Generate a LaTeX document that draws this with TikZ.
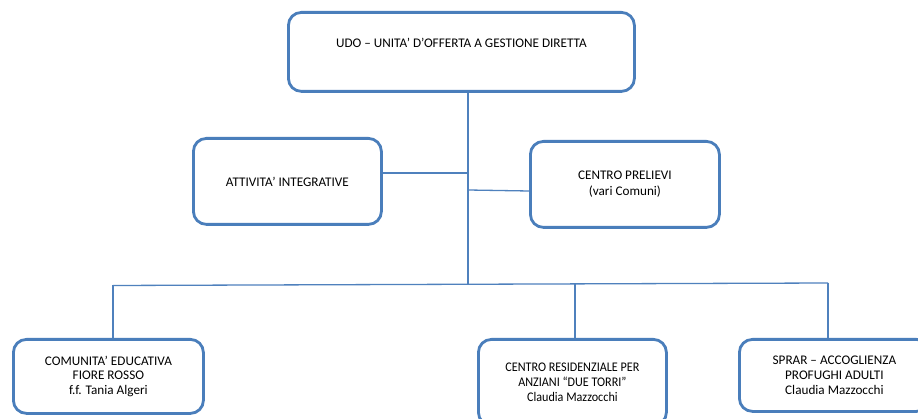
\documentclass[tikz,border=0pt]{standalone}
\usepackage{fontspec}
\setmainfont{Carlito}
\newfontfamily\narrowfont[FakeStretch=0.92,Ligatures=TeX]{Carlito}
\definecolor{boxline}{HTML}{4A7EBB}
\definecolor{wire}{HTML}{4F81BD}
\begin{document}
\begin{tikzpicture}[x=1pt,y=-1pt,
  unit/.style={draw=boxline, line width=2.8pt, rounded corners=13pt, fill=white,
    inner sep=0pt, align=center, anchor=north west, font=\fontsize{13.2}{16}\selectfont},
  subunit/.style={unit, font=\fontsize{13.2}{14.8}\selectfont},
  narrowunit/.style={unit, font=\narrowfont\fontsize{13.2}{15.2}\selectfont},
  link/.style={draw=wire, line width=1.3pt}]
\useasboundingbox (0,0) rectangle (918,419);
\clip (0,0) rectangle (918,419);
\fill[white] (0,0) rectangle (918,419);

% head office
\node[unit, minimum width=346pt, minimum height=79pt, text depth=18pt] (udo) at (287,11)
  {UDO – UNITA’ D’OFFERTA A GESTIONE DIRETTA};

% staff units on either side of the trunk
\node[unit, minimum width=188pt, minimum height=86pt] (att) at (192,137)
  {ATTIVITA’ INTEGRATIVE};
\node[unit, minimum width=189pt, minimum height=86pt] (prel) at (529,140)
  {CENTRO PRELIEVI\\(vari Comuni)};

% operating units
\node[subunit, minimum width=190pt, minimum height=74pt] (com) at (12,338)
  {COMUNITA’ EDUCATIVA\\FIORE ROSSO\\f.f. Tania Algeri};
\node[narrowunit, minimum width=188pt, minimum height=86pt] (res) at (477,338)
  {CENTRO RESIDENZIALE PER\\ANZIANI “DUE TORRI”\\Claudia Mazzocchi};
\node[subunit, minimum width=190pt, minimum height=72pt] (sprar) at (738,338)
  {SPRAR – ACCOGLIENZA\\PROFUGHI ADULTI\\Claudia Mazzocchi};

% trunk and branches
\coordinate (busL) at (113,285.5);
\coordinate (busR) at (828,283);
\coordinate (busC) at (468,284.5);
\draw[link] (udo.south -| busC) -- (busC);
\draw[link] (busL) -- (busR);
\draw[link] (att.east |- 0,173) -- (busC |- 0,173);
\draw[link] (busC |- 0,190) -- (prel.west |- 0,191);
\draw[link] (busL) -- (com.north -| busL);
\draw[link] (575,284) -- (res.north -| 575,0);
\draw[link] (busR) -- (sprar.north -| busR);
\end{tikzpicture}
\end{document}
